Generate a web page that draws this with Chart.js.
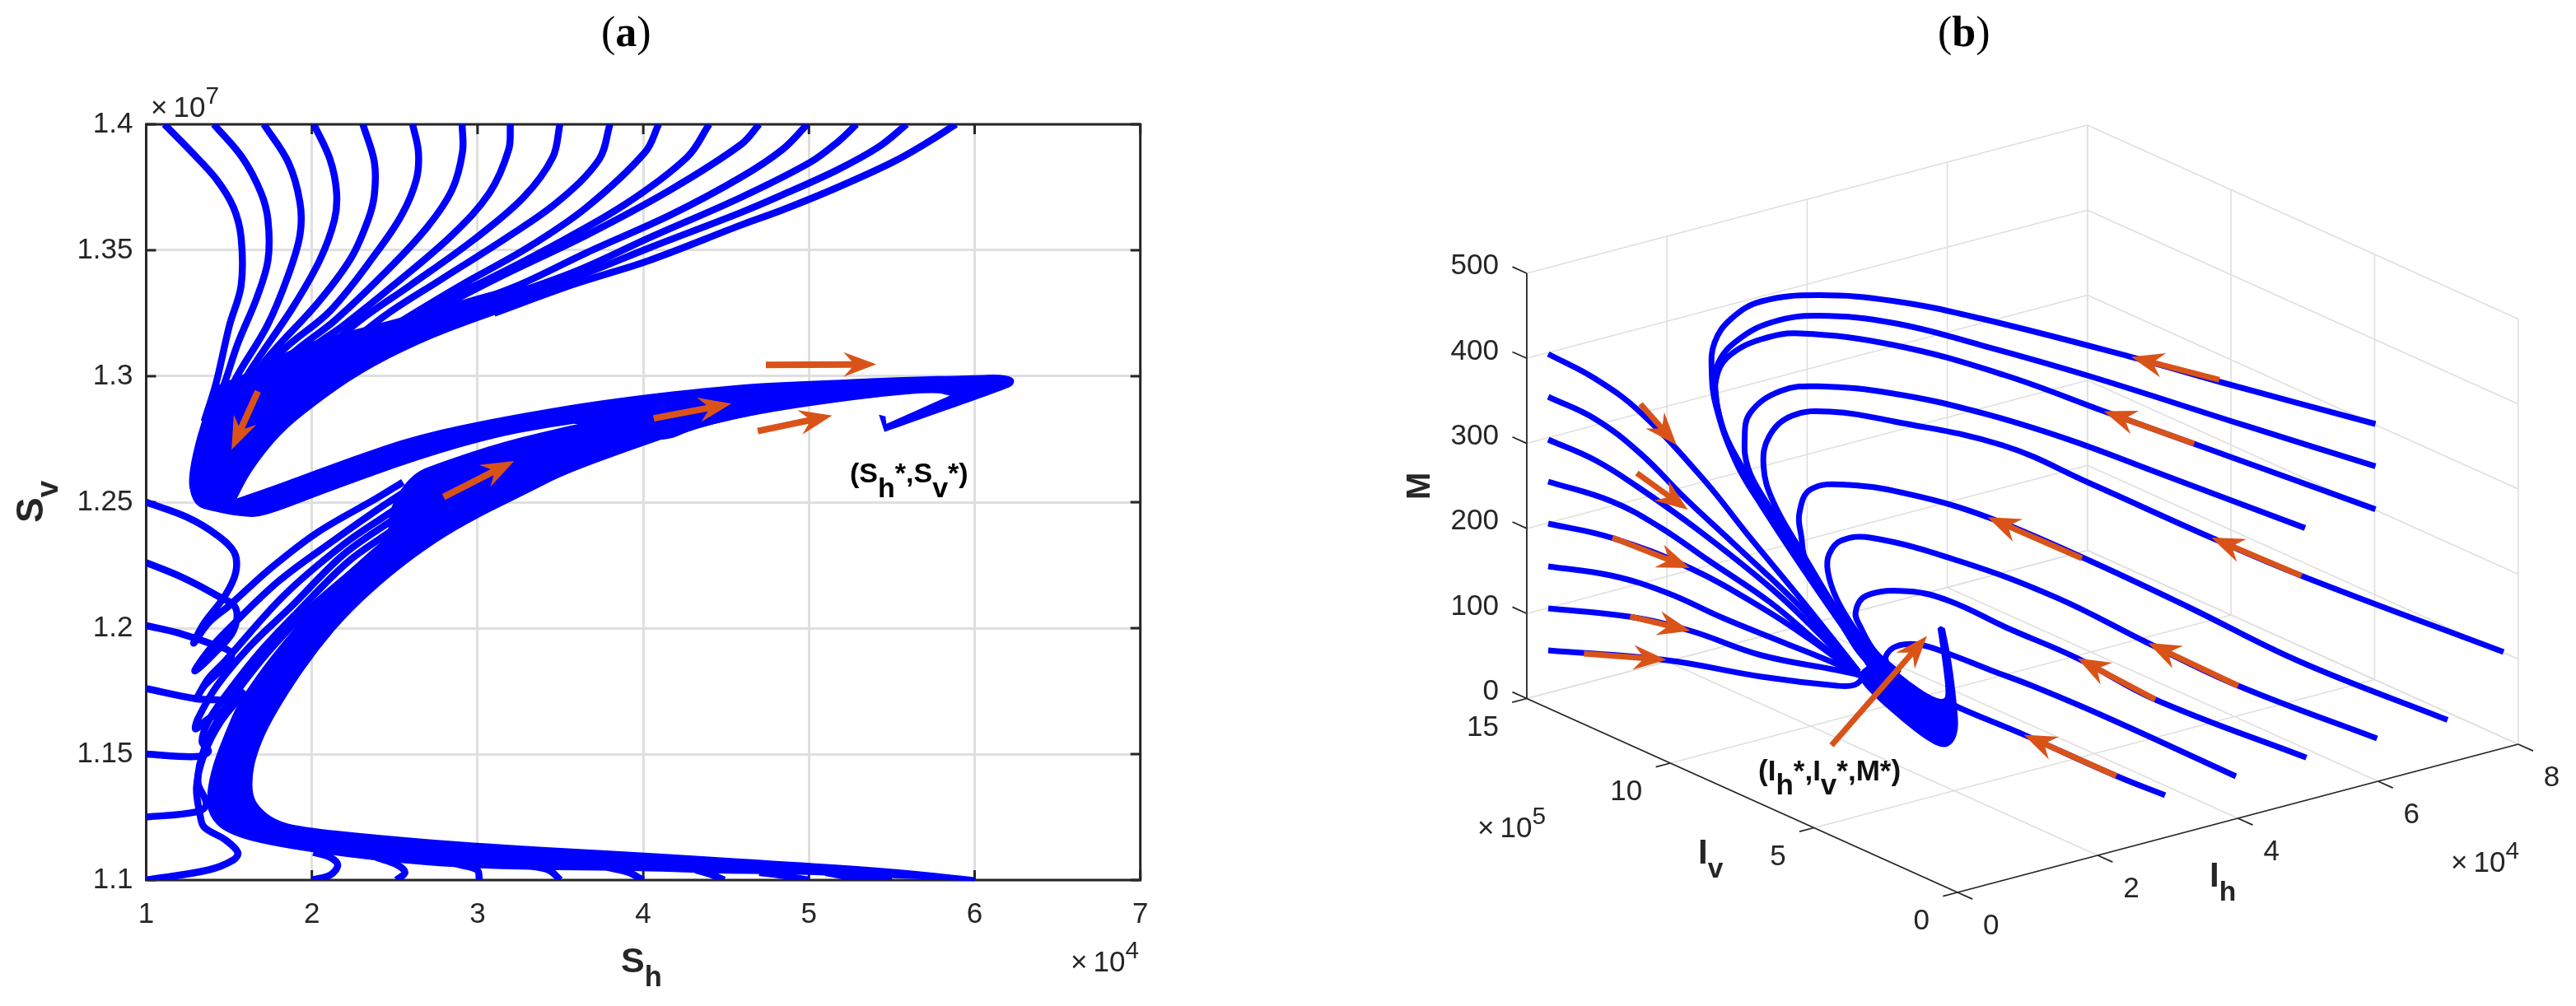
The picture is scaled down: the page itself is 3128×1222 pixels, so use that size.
<!DOCTYPE html>
<html>
<head>
<meta charset="utf-8">
<script src="https://cdn.jsdelivr.net/npm/chart.js"></script>
<style>
  html, body { margin: 0; background: #fff; width: 3128px; height: 1222px; overflow: hidden; }
  canvas { position: absolute; top: 0; }
  .t { position: absolute; line-height: 1; white-space: nowrap; color: #262626; font-family: "Liberation Sans", sans-serif; }
  .t span { position: relative; line-height: 0; }
</style>
</head>
<body>
<canvas id="panelA" width="1560" height="1222" style="left:0"></canvas>
<canvas id="panelB" width="1528" height="1222" style="left:1600px"></canvas>
<script>
// PANEL (a): Sh in units of 1e4, Sv in units of 1e7
const shTicks = [1, 2, 3, 4, 5, 6, 7];
const svTicks = [1.1, 1.15, 1.2, 1.25, 1.3, 1.35, 1.4];

// trajectories starting on the top edge
const topLines = [
  [[1.11,1.4],[1.274,1.389],[1.426,1.378],[1.527,1.367],[1.573,1.355],[1.573,1.336],[1.502,1.32],[1.421,1.297],[1.35,1.282]],
  [[1.408,1.4],[1.578,1.387],[1.692,1.373],[1.735,1.362],[1.735,1.346],[1.667,1.331],[1.553,1.313],[1.477,1.298],[1.4,1.284]],
  [[1.71,1.4],[1.857,1.385],[1.928,1.369],[1.928,1.356],[1.857,1.34],[1.73,1.32],[1.54,1.299],[1.45,1.285]],
  [[2.012,1.4],[2.11,1.386],[2.149,1.373],[2.136,1.362],[2.047,1.346],[1.882,1.327],[1.616,1.301],[1.5,1.287]],
  [[2.308,1.4],[2.377,1.385],[2.377,1.372],[2.339,1.362],[2.237,1.347],[2.034,1.329],[1.705,1.305],[1.55,1.288]],
  [[2.608,1.4],[2.643,1.389],[2.63,1.378],[2.542,1.364],[2.389,1.349],[2.111,1.326],[1.806,1.309],[1.6,1.29]],
  [[2.907,1.4],[2.909,1.389],[2.846,1.374],[2.694,1.359],[2.44,1.341],[2.136,1.322],[1.882,1.309],[1.7,1.296]],
  [[3.198,1.4],[3.188,1.39],[3.074,1.373],[2.846,1.356],[2.491,1.336],[2.187,1.32],[1.996,1.311],[1.8,1.298]],
  [[3.497,1.4],[3.454,1.387],[3.277,1.371],[2.973,1.354],[2.592,1.336],[2.288,1.322],[1.95,1.303]],
  [[3.799,1.4],[3.733,1.386],[3.48,1.369],[3.175,1.355],[2.77,1.338],[2.44,1.324],[2.1,1.306]],
  [[4.093,1.4],[4.012,1.389],[3.657,1.367],[3.302,1.351],[2.897,1.336],[2.592,1.324],[2.3,1.312]],
  [[4.398,1.4],[4.266,1.387],[3.885,1.368],[3.404,1.35],[3.049,1.338],[2.694,1.327],[2.4,1.314]],
  [[4.7,1.4],[4.59,1.392],[4.164,1.374],[3.657,1.356],[3.15,1.34],[2.77,1.327],[2.5,1.316]],
  [[4.99,1.4],[4.84,1.39],[4.59,1.379],[4.164,1.364],[3.657,1.349],[3.277,1.337],[2.897,1.327],[2.6,1.317]],
  [[5.287,1.4],[5.174,1.393],[5.01,1.385],[4.59,1.371],[4.038,1.355],[3.606,1.342],[3.15,1.331],[2.8,1.322]],
  [[5.59,1.4],[5.42,1.391],[5.174,1.382],[4.84,1.372],[4.59,1.365],[4.038,1.351],[3.581,1.339],[3.302,1.333],[2.9,1.323]],
  [[5.887,1.4],[5.72,1.393],[5.506,1.385],[5.174,1.375],[4.84,1.366],[4.59,1.36],[4.038,1.346],[3.581,1.3365],[3.1,1.325]]
];

// trajectories starting on the left edge
const leftLines = [
  [[1,1.25],[1.248,1.244],[1.426,1.237],[1.532,1.23],[1.54,1.222],[1.477,1.213],[1.35,1.202],[1.287,1.194],[1.375,1.202],[1.502,1.209],[1.756,1.224],[2.034,1.238],[2.389,1.2515],[2.55,1.258]],
  [[1,1.226],[1.223,1.22],[1.426,1.213],[1.54,1.208],[1.527,1.199],[1.426,1.191],[1.294,1.183],[1.375,1.191],[1.502,1.2],[1.806,1.219],[2.136,1.235],[2.44,1.249],[2.7,1.26]],
  [[1,1.201],[1.198,1.198],[1.426,1.193],[1.515,1.19],[1.477,1.185],[1.35,1.177],[1.304,1.172],[1.375,1.18],[1.477,1.187],[1.832,1.213],[2.187,1.233],[2.453,1.245],[2.7,1.256]],
  [[1,1.176],[1.299,1.172],[1.489,1.171],[1.489,1.168],[1.375,1.164],[1.299,1.16],[1.312,1.164],[1.426,1.177],[1.629,1.193],[1.882,1.209],[2.187,1.229],[2.466,1.242],[2.7,1.252]],
  [[1,1.15],[1.299,1.149],[1.375,1.151],[1.337,1.155],[1.375,1.163],[1.477,1.173],[1.68,1.19],[1.908,1.206],[2.212,1.226],[2.466,1.238],[2.7,1.249]],
  [[1,1.125],[1.299,1.127],[1.363,1.13],[1.312,1.139],[1.35,1.152],[1.426,1.163],[1.527,1.173],[1.73,1.19],[1.958,1.206],[2.237,1.222],[2.466,1.235],[2.7,1.246]],
  [[1,1.1],[1.375,1.104],[1.527,1.108],[1.553,1.111],[1.477,1.116],[1.35,1.121],[1.325,1.126],[1.304,1.137],[1.35,1.15],[1.451,1.163],[1.6,1.175]]
];

// trajectories starting on the bottom edge
const bottomLines = [
  [[2,1.1],[2.111,1.102],[2.156,1.106],[2.111,1.109],[2.009,1.111]],
  [[2.511,1.1],[2.562,1.103],[2.516,1.106],[2.389,1.109]],
  [[3.011,1.1],[2.998,1.104],[2.897,1.106],[2.795,1.108]],
  [[3.5,1.1],[3.429,1.104],[3.277,1.106]],
  [[4,1.1],[3.911,1.103],[3.784,1.105]],
  [[4.489,1.1],[4.418,1.102],[4.316,1.104]],
  [[5,1.1],[4.82,1.102],[4.7,1.103]],
  [[5.5,1.1],[5.27,1.101],[5.1,1.103]]
];

// outlines of the dense bundles, too packed to tell the lines apart; a repeated point keeps a corner sharp
const bundleUpper = [[1.421,1.297],[1.54,1.299],[1.616,1.302],[1.794,1.308],[1.996,1.314],[2.288,1.319],[2.466,1.322],[2.846,1.329],[3.15,1.335],[3.581,1.3385],[3.581,1.3385],[3.581,1.3355],[3.581,1.3355],[3.404,1.331],[2.998,1.322],[2.643,1.313],[2.288,1.301],[2.009,1.288],[1.806,1.277],[1.629,1.262],[1.548,1.2515],[1.548,1.2515],[1.832,1.258],[2.237,1.268],[2.643,1.277],[3.15,1.284],[3.784,1.291],[4.59,1.297],[4.984,1.298],[5.54,1.2997],[6.007,1.3004],[6.14,1.3008],[6.238,1.2997],[6.238,1.2966],[6.184,1.2948],[5.456,1.2779],[5.456,1.2779],[5.422,1.2847],[5.422,1.2847],[5.462,1.2841],[5.462,1.2841],[5.467,1.2811],[5.467,1.2811],[5.851,1.2923],[5.851,1.2923],[5.762,1.2937],[5.429,1.292],[4.762,1.286],[4.318,1.2795],[4.096,1.273],[3.581,1.2811],[3.581,1.2811],[3.15,1.2766],[2.643,1.267],[2.085,1.2538],[1.73,1.2447],[1.603,1.2438],[1.35,1.247],[1.299,1.249],[1.269,1.2529],[1.254,1.2586],[1.279,1.2689],[1.337,1.283]];
const bundleLower = [[3.581,1.2807],[3.581,1.2807],[3.15,1.274],[2.77,1.2657],[2.6,1.2612],[2.46,1.2472],[2.466,1.2353],[2.237,1.2237],[2.034,1.2107],[1.832,1.1952],[1.705,1.1847],[1.553,1.1704],[1.477,1.1587],[1.401,1.1458],[1.363,1.1341],[1.375,1.1257],[1.477,1.1185],[1.756,1.1133],[2.389,1.1075],[2.998,1.1042],[4,1.1036],[4.5,1.1025],[5,1.1022],[5.5,1.1007],[6,1.0996],[6,1.0996],[6,1.1011],[6,1.1011],[5.543,1.1044],[5,1.1069],[4.097,1.1105],[2.998,1.1146],[2.389,1.1179],[1.933,1.1211],[1.781,1.1237],[1.68,1.1289],[1.641,1.1341],[1.641,1.1419],[1.667,1.1497],[1.73,1.16],[1.857,1.1743],[2.034,1.1912],[2.237,1.2068],[2.491,1.2217],[2.744,1.234],[2.998,1.2438],[3.302,1.2535],[3.53,1.2612],[3.987,1.2721],[4.318,1.2795],[4.762,1.286],[4.762,1.286]];

const arrowsATail = [[1.674,1.294],[2.795,1.2521],[4.063,1.2833],[4.74,1.3045],[4.691,1.2782]];
const arrowsAHead = [[1.515,1.2708],[3.221,1.2663],[4.532,1.2891],[5.407,1.3047],[5.14,1.2844]];

// PANEL (b): axis values, Ih in 1e4, Iv in 1e5
const ihTicks = [0, 2, 4, 6, 8];
const ivTicks = [0, 5, 10, 15];
const mTicks = [0, 100, 200, 300, 400, 500];

// the curves in the view plane of the 3D box, origin at the Ih=Iv=M=0 corner
const fanCurves = [
  [[-497,654],[-440,624],[-385,583],[-307,500],[-256,436],[-190,356],[-150,306],[-120,268]],
  [[-497,602],[-440,575],[-385,533],[-330,478],[-270,422],[-190,346],[-150,300],[-120,266]],
  [[-497,550],[-440,525],[-389,493],[-316,441],[-227,370],[-170,316],[-120,264]],
  [[-497,499],[-420,475],[-362,444],[-302,403],[-227,352],[-170,304],[-120,264]],
  [[-497,448],[-421,431],[-325,394],[-238,346],[-180,308],[-120,264]],
  [[-497,396],[-421,385],[-353,364],[-284,333],[-210,303],[-146,277],[-118,263]],
  [[-497,345],[-399,335],[-325,318],[-238,288],[-146,270],[-118,264]],
  [[-497,294],[-353,282],[-238,262],[-146,251],[-125,252],[-114,261]]
];
const loopCurves = [
  [[507.5,569],[319,620],[210.8,650.4],[28.6,697],[-77,718.3],[-169,725.4],[-238,718],[-274.6,697],[-295,668],[-298.5,632.6],[-293,589.7],[-270,525.4],[-238,471.9],[-192,411],[-125,300],[-105,275]],
  [[507.5,517.6],[345.4,568.3],[160.6,627],[28.6,664.7],[-77,691.5],[-169,700.4],[-224,693],[-265.4,672],[-290.7,643],[-294,611],[-284,561],[-256,507.6],[-215,443],[-155,355],[-105,272]],
  [[507.5,465.4],[287,545],[179,584],[55,629],[-77,664.7],[-192,679],[-238,672],[-274.6,654],[-290.7,632.6],[-293,597],[-270,525],[-238,470],[-165,360],[-105,275]],
  [[422,442.6],[239.8,511],[134,550.4],[28.6,582.6],[-77,605.8],[-169,614.7],[-215,609],[-251.6,582.6],[-258.5,550.4],[-254,514.7],[-233,475.4],[-201,429],[-165,370],[-100,275]],
  [[663,292],[417.7,384.6],[308,431],[160.6,497],[55,543],[-77,572],[-155,584],[-201,579],[-228.7,554],[-235.6,518],[-224,475],[-192,418],[-125,310],[-95,278]],
  [[595,209.4],[414.7,280.7],[278.6,347.5],[151.4,407],[36.5,455.8],[-54,482.6],[-132,495],[-178,489.7],[-192,461],[-189.7,432.6],[-183,400],[-120,300],[-92,278]],
  [[509.4,187],[340.8,251],[231,303],[118.9,358.6],[0.5,403],[-104.7,430.8],[-141.5,427.3],[-156,410.6],[-157.5,390],[-147,357],[-125,320],[-100,288]],
  [[423.6,163.7],[240,234.3],[145.5,284.4],[59.7,321.5],[-10,354],[-60,365.7],[-110,360.7],[-123.7,340.7],[-117,320.7],[-100,292],[-70.5,266]],
  [[338,141],[178,214],[93,250],[40,270],[-14,291],[-47,301],[-74,299],[-87,287],[-85,275]],
  [[252,118],[192.8,141.5],[80.4,191.6],[0.5,225],[-10,232]]
];
const spiralOutline = [[-117,257.3],[-120.3,267.3],[-107,277.3],[-90.3,280.7],[-80.3,274],[-60.3,257.3],[-33.7,239],[-17,233.3],[-13.7,240.7],[-17.7,277.3],[-24.3,320.7],[-24.3,320.7],[-20.3,324],[-15.3,320.7],[-15.3,320.7],[-7,280.7],[-0.3,224],[1.3,197.3],[-5.3,180.7],[-17,174.7],[-37,184],[-67,207.3],[-97,234],[-113.7,250.7]];

const arrowsBTail = [[-385,593.3],[-389.4,509.4],[-419,431],[-397.6,335.2],[-453.7,290],[-153,178.6],[318,622.6],[287.3,545],[151,405.8],[417.7,384.6],[340.8,251],[240.2,234.3],[192.8,141.5]];
const arrowsBHead = [[-341,543.3],[-327.4,464.7],[-325,393.9],[-324.2,317.8],[-353.6,282.5],[-37,311.5],[210.8,650.4],[177.5,584.4],[36.5,455.8],[308.2,431],[231.3,303],[145.5,284.4],[80.4,191.6]];

const BLUE = '#0000ff';
const ORANGE = '#d95319';
const INK = '#262626';
const GRID = '#dfdfdf';

// fills the outline datasets, from points the scales already placed
const bundlePlugin = {
  id: 'bundleFill',
  beforeDatasetDraw(chart, args) {
    const ds = chart.data.datasets[args.index];
    if (!ds.bundle) return;
    const ctx = chart.ctx;
    const pts = args.meta.data;
    const last = pts[pts.length - 1];
    ctx.save();
    ctx.fillStyle = BLUE;
    ctx.beginPath();
    ctx.moveTo((last.x + pts[0].x) / 2, (last.y + pts[0].y) / 2);
    pts.forEach((p, i) => {
      const n = pts[(i + 1) % pts.length];
      ctx.quadraticCurveTo(p.x, p.y, (p.x + n.x) / 2, (p.y + n.y) / 2);
    });
    ctx.closePath();
    ctx.fill();
    ctx.restore();
  }
};

const arrowPlugin = {
  id: 'arrows',
  afterDatasetsDraw(chart, args, opts) {
    const ctx = chart.ctx;
    const sx = chart.scales.x, sy = chart.scales.y;
    opts.tails.forEach((tail, i) => {
      const x0 = sx.getPixelForValue(tail[0]), y0 = sy.getPixelForValue(tail[1]);
      const x1 = sx.getPixelForValue(opts.heads[i][0]), y1 = sy.getPixelForValue(opts.heads[i][1]);
      const a = Math.atan2(y1 - y0, x1 - x0);
      const len = Math.hypot(x1 - x0, y1 - y0);
      ctx.save();
      ctx.translate(x0, y0);
      ctx.rotate(a);
      ctx.fillStyle = ORANGE;
      ctx.beginPath();
      ctx.moveTo(0, -opts.shaft / 2);
      ctx.lineTo(len - 30, -opts.shaft / 2);
      ctx.lineTo(len - 40, -15);
      ctx.lineTo(len, 0);
      ctx.lineTo(len - 40, 15);
      ctx.lineTo(len - 30, opts.shaft / 2);
      ctx.lineTo(0, opts.shaft / 2);
      ctx.closePath();
      ctx.fill();
      ctx.restore();
    });
  }
};

// box and inward ticks of panel (a), under the curves like in MATLAB
const boxPlugin = {
  id: 'box',
  beforeDatasetsDraw(chart) {
    const { ctx, chartArea: c, scales } = chart;
    ctx.save();
    ctx.strokeStyle = INK;
    ctx.lineWidth = 3;
    ctx.strokeRect(c.left, c.top, c.right - c.left, c.bottom - c.top);
    ctx.beginPath();
    shTicks.forEach(v => {
      const x = scales.x.getPixelForValue(v);
      ctx.moveTo(x, c.bottom); ctx.lineTo(x, c.bottom - 12);
      ctx.moveTo(x, c.top); ctx.lineTo(x, c.top + 12);
    });
    svTicks.forEach(v => {
      const y = scales.y.getPixelForValue(v);
      ctx.moveTo(c.left, y); ctx.lineTo(c.left + 12, y);
      ctx.moveTo(c.right, y); ctx.lineTo(c.right - 12, y);
    });
    ctx.stroke();
    ctx.restore();
  }
};

function blueLine(points) {
  return { data: points, showLine: true, pointRadius: 0, borderColor: BLUE, borderWidth: 8.5, tension: 0.35, fill: false };
}
function bundle(points) {
  return { data: points, showLine: true, pointRadius: 0, borderColor: BLUE, borderWidth: 0, tension: 0, fill: false, bundle: true };
}

const chartA = new Chart(document.getElementById('panelA'), {
  type: 'scatter',
  data: {
    datasets: [bundle(bundleUpper), bundle(bundleLower)]
      .concat(topLines.map(blueLine), leftLines.map(blueLine), bottomLines.map(blueLine))
  },
  options: {
    responsive: false,
    animation: false,
    layout: { padding: { top: 151, right: 175.3, left: 0, bottom: 0 } },
    plugins: {
      legend: { display: false },
      tooltip: { enabled: false },
      arrows: { tails: arrowsATail, heads: arrowsAHead, shaft: 8 }
    },
    scales: {
      x: {
        type: 'linear', min: 1, max: 7,
        afterBuildTicks: s => { s.ticks = shTicks.map(v => ({ value: v })); },
        afterFit: s => { s.height = 153; },
        grid: { color: GRID, lineWidth: 3, drawTicks: false },
        border: { display: false },
        ticks: { autoSkip: false, maxRotation: 0, padding: 21, color: INK, font: { family: 'Liberation Sans', size: 35 } }
      },
      y: {
        type: 'linear', min: 1.1, max: 1.4,
        afterBuildTicks: s => { s.ticks = svTicks.map(v => ({ value: v })); },
        afterFit: s => { s.width = 177.5; },
        grid: { color: GRID, lineWidth: 3, drawTicks: false },
        border: { display: false },
        ticks: { autoSkip: false, padding: 16, color: INK, font: { family: 'Liberation Sans', size: 35 }, callback: v => String(v) }
      }
    }
  },
  plugins: [bundlePlugin, boxPlugin, arrowPlugin]
});

// orthographic view of the 3D box: how one unit of each axis moves on the view plane
function project(ih, iv, m) {
  return [85.1 * ih - 34.87 * iv, 22.5 * ih + 15.7 * iv + 1.033 * m];
}
function segment(a, b, color, width) {
  return { data: [a, b], showLine: true, pointRadius: 0, borderColor: color, borderWidth: width, tension: 0, fill: false };
}

const ihMax = ihTicks[ihTicks.length - 1], ivMax = ivTicks[ivTicks.length - 1], mMax = mTicks[mTicks.length - 1];
const boxSegments = [];
ihTicks.forEach(ih => {
  boxSegments.push(segment(project(ih, 0, 0), project(ih, ivMax, 0), GRID, 1.6));
  boxSegments.push(segment(project(ih, ivMax, 0), project(ih, ivMax, mMax), GRID, 1.6));
});
ivTicks.forEach(iv => {
  boxSegments.push(segment(project(0, iv, 0), project(ihMax, iv, 0), GRID, 1.6));
  boxSegments.push(segment(project(ihMax, iv, 0), project(ihMax, iv, mMax), GRID, 1.6));
});
mTicks.forEach(m => {
  boxSegments.push(segment(project(0, ivMax, m), project(ihMax, ivMax, m), GRID, 1.6));
  boxSegments.push(segment(project(ihMax, ivMax, m), project(ihMax, 0, m), GRID, 1.6));
});
const axisSegments = [
  segment(project(0, ivMax, 0), project(0, ivMax, mMax), INK, 1.8),
  segment(project(0, 0, 0), project(0, ivMax, 0), INK, 1.8),
  segment(project(0, 0, 0), project(ihMax, 0, 0), INK, 1.8)
];
mTicks.forEach(m => axisSegments.push(segment(project(0, ivMax, m), project(0, ivMax + 0.5, m), INK, 1.8)));
ivTicks.forEach(iv => axisSegments.push(segment(project(0, iv, 0), project(-0.208, iv, 0), INK, 1.8)));
ihTicks.forEach(ih => axisSegments.push(segment(project(ih, 0, 0), project(ih, -0.52, 0), INK, 1.8)));

function blueCurve(points) {
  return { data: points, showLine: true, pointRadius: 0, borderColor: BLUE, borderWidth: 7, tension: 0.4, fill: false };
}

const chartB = new Chart(document.getElementById('panelB'), {
  type: 'scatter',
  data: {
    // the first dataset is painted last
    datasets: [bundle(spiralOutline)]
      .concat(fanCurves.map(blueCurve), loopCurves.map(blueCurve), axisSegments, boxSegments)
  },
  options: {
    responsive: false,
    animation: false,
    plugins: {
      legend: { display: false },
      tooltip: { enabled: false },
      arrows: { tails: arrowsBTail, heads: arrowsBHead, shaft: 7 }
    },
    scales: {
      x: { type: 'linear', display: false, min: -777, max: 751 },
      y: { type: 'linear', display: false, min: -138, max: 1084 }
    }
  },
  plugins: [bundlePlugin, arrowPlugin]
});

// HTML text, x is the left edge and base the baseline
function addText(html, x, base, size, o = {}) {
  const d = document.createElement('div');
  d.className = 't';
  d.innerHTML = html;
  d.style.fontSize = size + 'px';
  d.style.left = x + 'px';
  d.style.top = (base - 0.8465 * size) + 'px';
  if (o.bold) d.style.fontWeight = 'bold';
  if (o.serif) d.style.fontFamily = '"Liberation Serif", serif';
  if (o.color) d.style.color = o.color;
  if (o.right) d.style.transform = 'translateX(-100%)';
  document.body.appendChild(d);
  return d;
}
function addRotated(html, baseX, startY, size) {
  const d = document.createElement('div');
  d.className = 't';
  d.innerHTML = html;
  d.style.fontSize = size + 'px';
  d.style.fontWeight = 'bold';
  d.style.left = (baseX - 0.8465 * size) + 'px';
  d.style.top = startY + 'px';
  d.style.transformOrigin = '0 0';
  d.style.transform = 'rotate(-90deg)';
  document.body.appendChild(d);
}
const sub = (s, em = 0.5, fs = 0.8) => `<span style="top:${em}em;font-size:${fs}em">${s}</span>`;
const sup = s => `<span style="top:-0.55em;font-size:.85em">${s}</span>`;

addText('(<b>a</b>)', 730, 57, 52, { serif: true, color: '#000' });
addText('(<b>b</b>)', 2353, 57, 52, { serif: true, color: '#000' });
addText('×&thinsp;10' + sup('7'), 183, 142, 35);
addText('×&thinsp;10' + sup('4'), 1300, 1180, 35);
addText('S' + sub('h'), 754, 1181, 43, { bold: true });
addRotated('S' + sub('v'), 52, 635, 46);
addText('(S' + sub('h', 0.52, 1) + '*,S' + sub('v', 0.52, 1) + '*)', 1032, 586, 34, { bold: true, color: '#000' });

// panel (b) tick labels follow the projected axes through the chart scales
const bx = v => 1600 + chartB.scales.x.getPixelForValue(v);
const by = v => chartB.scales.y.getPixelForValue(v);
mTicks.forEach(m => {
  const p = project(0, ivMax, m);
  addText(String(m), bx(p[0]) - 34, by(p[1]) + 1, 35, { right: true });
});
ivTicks.forEach(iv => {
  const p = project(0, iv, 0);
  addText(String(iv), bx(p[0]) - 34, by(p[1]) + 45, 35, { right: true });
});
ihTicks.forEach(ih => {
  const p = project(ih, 0, 0);
  addText(String(ih), bx(p[0]) + 31, by(p[1]) + 51, 35);
});
addText('×&thinsp;10' + sup('5'), 1794, 1017, 35);
addText('×&thinsp;10' + sup('4'), 2976, 1059, 35);
addRotated('M', 1736, 607, 40);
addText('I' + sub('v'), 2062, 1050, 42, { bold: true });
addText('I' + sub('h'), 2683, 1078, 42, { bold: true });
addText('(I' + sub('h', 0.48, 1) + '*,I' + sub('v', 0.48, 1) + '*,M*)', 2135, 948, 35, { bold: true, color: '#111' });
</script>
</body>
</html>
